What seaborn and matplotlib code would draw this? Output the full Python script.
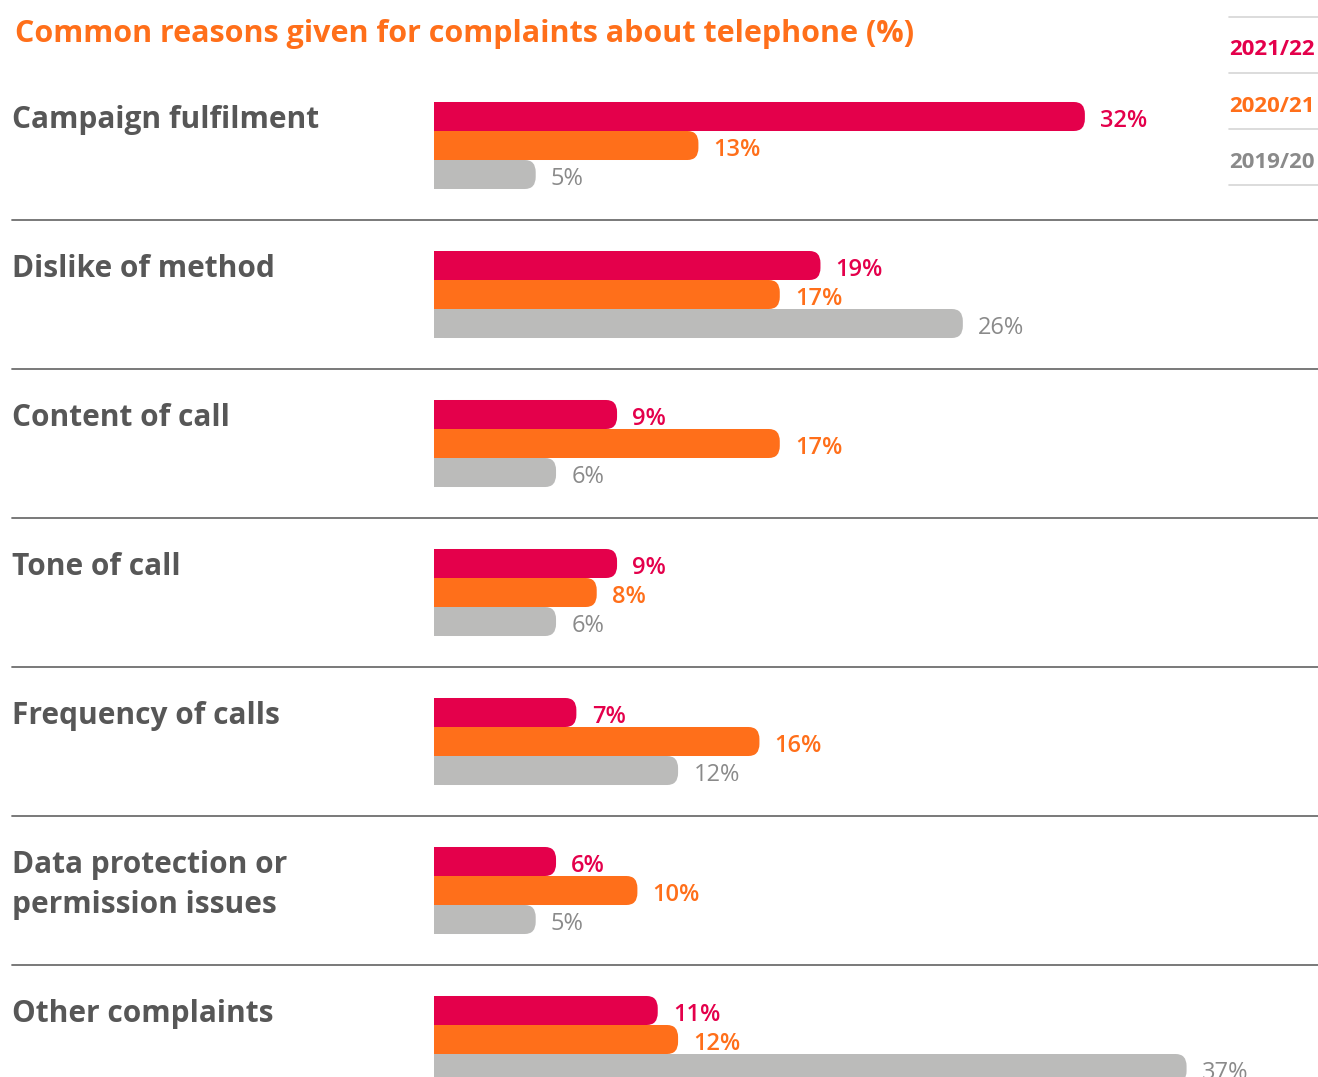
import numpy as np
import pandas as pd
import matplotlib
matplotlib.use("Agg")
import matplotlib.pyplot as plt
from matplotlib.patches import FancyBboxPatch, Rectangle
from matplotlib.lines import Line2D
from matplotlib.transforms import blended_transform_factory
import seaborn as sns

# ---- data -------------------------------------------------------------
categories = [
    "Campaign fulfilment",
    "Dislike of method",
    "Content of call",
    "Tone of call",
    "Frequency of calls",
    "Data protection or\npermission issues",
    "Other complaints",
]
periods = ["2021/22", "2020/21", "2019/20"]
share_2021_22 = [32, 19, 9, 9, 7, 6, 11]
share_2020_21 = [13, 17, 17, 8, 16, 10, 12]
share_2019_20 = [5, 26, 6, 6, 12, 5, 37]

title = "Common reasons given for complaints about telephone (%)"

# ---- styling ----------------------------------------------------------
CRIMSON = "#E4004B"
ORANGE = "#FF6F1A"
GREY_BAR = "#BBBBBA"
GREY_TEXT = "#8A8A8A"
DARK = "#575757"
bar_colors = [CRIMSON, ORANGE, GREY_BAR]
text_colors = [CRIMSON, ORANGE, GREY_TEXT]

df = pd.DataFrame({
    "reason": categories * 3,
    "period": np.repeat(periods, len(categories)),
    "share": share_2021_22 + share_2020_21 + share_2019_20,
})

sns.set_theme(style="white")
plt.rcParams["font.family"] = ["Open Sans", "DejaVu Sans"]

W, H = 1318, 1077
fig = plt.figure(figsize=(W / 100, H / 100), dpi=100)
fig.patch.set_facecolor("white")

left_px = 434          # where the bars start
row_px = 149           # vertical distance between reason groups
first_center_px = 145.5
ax = fig.add_axes([left_px / W, 0, 1 - left_px / W, 1])

sns.barplot(
    data=df, x="share", y="reason", hue="period",
    order=categories, hue_order=periods, palette=bar_colors,
    width=0.584, orient="y", saturation=1, errorbar=None,
    legend=False, ax=ax,
)

px_per_pct = 20.34
ax.set_xlim(0, (W - left_px) / px_per_pct)
ax.set_ylim((H - first_center_px) / row_px, -first_center_px / row_px)
ax.set_axis_off()

# value labels, just right of each bar end
for cont, col, vals in zip(ax.containers, text_colors,
                           [share_2021_22, share_2020_21, share_2019_20]):
    for bar, v in zip(cont.patches, vals):
        ax.annotate(f"{v}%", (v, bar.get_y() + bar.get_height() / 2),
                    xytext=(11, -3), textcoords="offset points",
                    ha="left", va="center", color=col, fontsize=17,
                    fontweight="semibold" if col != GREY_TEXT else "medium")

# rounded right ends on every bar
rx_px, ry_px = 11, 12
rx = rx_px / px_per_pct
aspect = (ry_px / row_px) / rx
for patch in list(ax.patches):
    x, y = patch.get_x(), patch.get_y()
    w, h = patch.get_width(), patch.get_height()
    fc = patch.get_facecolor()
    patch.set_visible(False)
    ax.add_patch(Rectangle((x, y), w / 2, h, facecolor=fc,
                           edgecolor="none", linewidth=0))
    ax.add_patch(FancyBboxPatch((x, y), w, h,
                                boxstyle=f"round,pad=0,rounding_size={rx}",
                                mutation_aspect=aspect, facecolor=fc,
                                edgecolor="none", linewidth=0))

# reason labels and separators, x in figure space, y in data space
mixed = blended_transform_factory(fig.transFigure, ax.transData)
for i, name in enumerate(categories):
    for k, line in enumerate(name.split("\n")):
        ax.text(12 / W, i - 0.117 + k * 40 / row_px, line, transform=mixed,
                fontsize=21.5, fontweight="bold", color=DARK,
                ha="left", va="baseline")
    if i < len(categories) - 1:
        ax.plot([12 / W, 1], [i + 0.5, i + 0.5], transform=mixed,
                color="#6E6E6E", linewidth=1.3, clip_on=False)

# title
fig.text(15 / W, 1 - 42 / H, title, color=ORANGE, fontsize=22,
         fontweight="bold", ha="left", va="baseline")

# legend: stacked period names between thin rules
for y_px in [17, 73, 129, 185]:
    fig.add_artist(Line2D([1229 / W, 1], [1 - y_px / H] * 2,
                          color="#D5D5D5", linewidth=1.2))
for p, col, base_px in zip(periods, text_colors, [55, 112, 168]):
    fig.text(1229 / W, 1 - base_px / H, p, color=col, fontsize=16,
             fontweight="bold", ha="left", va="baseline")

fig.savefig("out.png", dpi=100)
